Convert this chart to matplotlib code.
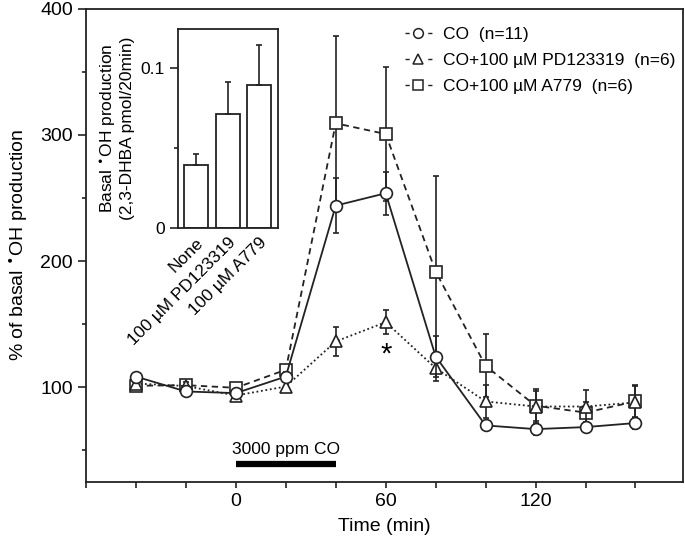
import matplotlib.pyplot as plt
from matplotlib.lines import Line2D
from matplotlib.ticker import MultipleLocator

plt.rcParams['font.family'] = ['Liberation Sans', 'DejaVu Sans']
plt.rcParams['mathtext.fontset'] = 'dejavusans'

# time course, % of basal OH production
time = [-40, -20, 0, 20, 40, 60, 80, 100, 120, 140, 160]
co_mean = [108.5, 96.7, 95.4, 108.5, 243.9, 253.7, 124.4, 69.8, 66.9, 68.5, 71.7]
co_err = [3, 3, 3, 4, 21.5, 17, 16, 3, 5, 4, 5]
pd_mean = [103, 101, 93.5, 100.6, 136.3, 151.6, 115.2, 88.8, 84.8, 84.8, 88]
pd_err = [3, 3, 4, 4, 11.8, 9.5, 10, 13, 13.5, 13, 13]
a7_mean = [101.2, 101.7, 99.6, 113.9, 309.1, 300.6, 191.7, 117, 85.4, 80, 88.8]
a7_err = [3, 3, 3, 4, 69.5, 53.3, 76, 25, 12, 8, 13]
legend_labels = ['CO  (n=11)', 'CO+100 µM PD123319  (n=6)', 'CO+100 µM A779  (n=6)']

# CO exposure window
co_start, co_end = 0, 40

# inset: basal production
inset_labels = ['None', '100 µM PD123319', '100 µM A779']
inset_vals = [0.039, 0.071, 0.089]
inset_err = [0.007, 0.020, 0.025]

ink = '#222222'
fig = plt.figure(figsize=(6.85, 5.46), dpi=100)
ax = fig.add_axes([0.1255, 0.1172, 0.8715, 0.8672])

common = dict(color=ink, mfc='white', mec=ink, ms=8.5, mew=1.2, lw=1.3,
              elinewidth=1.2, capsize=2.5, capthick=1.2)
ax.errorbar(time, a7_mean, yerr=a7_err, fmt='s', ls=(0, (3.5, 2.5)), zorder=3, **common)
ax.errorbar(time, pd_mean, yerr=pd_err, fmt='^', ls=(0, (1, 1.5)), zorder=4, **common)
ax.errorbar(time, co_mean, yerr=co_err, fmt='o', ls='-', zorder=5, **common)

ax.set_xlim(-60, 179)
ax.set_ylim(25, 400)
ax.xaxis.set_major_locator(MultipleLocator(60))
ax.xaxis.set_minor_locator(MultipleLocator(20))
ax.yaxis.set_major_locator(MultipleLocator(100))
ax.yaxis.set_minor_locator(MultipleLocator(50))
ax.set_xticks([0, 60, 120])
ax.tick_params(which='major', axis='y', length=6, width=1.2, color=ink, labelsize=14)
ax.tick_params(which='minor', axis='y', length=3, width=1.2, color=ink)
ax.tick_params(which='both', axis='x', length=4.5, width=1.2, color=ink, labelsize=14)
for s in ax.spines.values():
    s.set_linewidth(1.3)
    s.set_color(ink)
ax.set_xlabel('Time (min)', fontsize=14, labelpad=6)
ax.set_ylabel(r'% of basal $^{\bullet}$OH production', fontsize=14, labelpad=8)

# CO exposure bar and note
ax.plot([co_start, co_end], [39.2, 39.2], color='black', lw=4.5, solid_capstyle='butt')
ax.text((co_start + co_end) / 2, 45, '3000 ppm CO', ha='center', va='bottom', fontsize=12.5)
ax.text(60, 126, '*', ha='center', va='center', fontsize=21)

# legend "-O-" style
handles = [Line2D([], [], color=ink, marker=m, mfc='white', mec=ink, ms=7, mew=1.1,
                  lw=1, dashes=(3, 13.4)) for m in ['o', '^', 's']]
ax.legend(handles, legend_labels, loc='upper right', bbox_to_anchor=(1.0, 0.978),
          frameon=False, fontsize=12.5, handlelength=1.55, handletextpad=0.63,
          labelspacing=0.62, borderaxespad=0.05, numpoints=1)

# inset
ins = fig.add_axes([0.2599, 0.5824, 0.146, 0.3645])
xpos = range(len(inset_vals))
ins.bar(xpos, inset_vals, width=0.76, color='white', edgecolor=ink, lw=1.3,
        yerr=[[0] * 3, inset_err], capsize=2.5,
        error_kw=dict(elinewidth=1.2, capthick=1.2, ecolor=ink))
ins.set_xlim(-0.57, 2.6)
ins.set_ylim(0, 0.124)
ins.set_yticks([0, 0.1])
ins.set_yticklabels(['0', '0.1'])
ins.yaxis.set_minor_locator(MultipleLocator(0.05))
ins.set_xticks(list(xpos))
ins.set_xticklabels(inset_labels, rotation=45, ha='right', rotation_mode='anchor', fontsize=12.5)
ins.tick_params(axis='x', length=0, pad=5)
ins.tick_params(axis='y', which='major', length=6, width=1.2, color=ink, labelsize=12.5)
ins.tick_params(axis='y', which='minor', length=3, width=1.2, color=ink)
for s in ins.spines.values():
    s.set_linewidth(1.3)
    s.set_color(ink)
ins.set_ylabel('Basal $^{\\bullet}$OH production\n(2,3-DHBA pmol/20min)', fontsize=12.5, labelpad=4)

fig.savefig('out.png', dpi=100)
